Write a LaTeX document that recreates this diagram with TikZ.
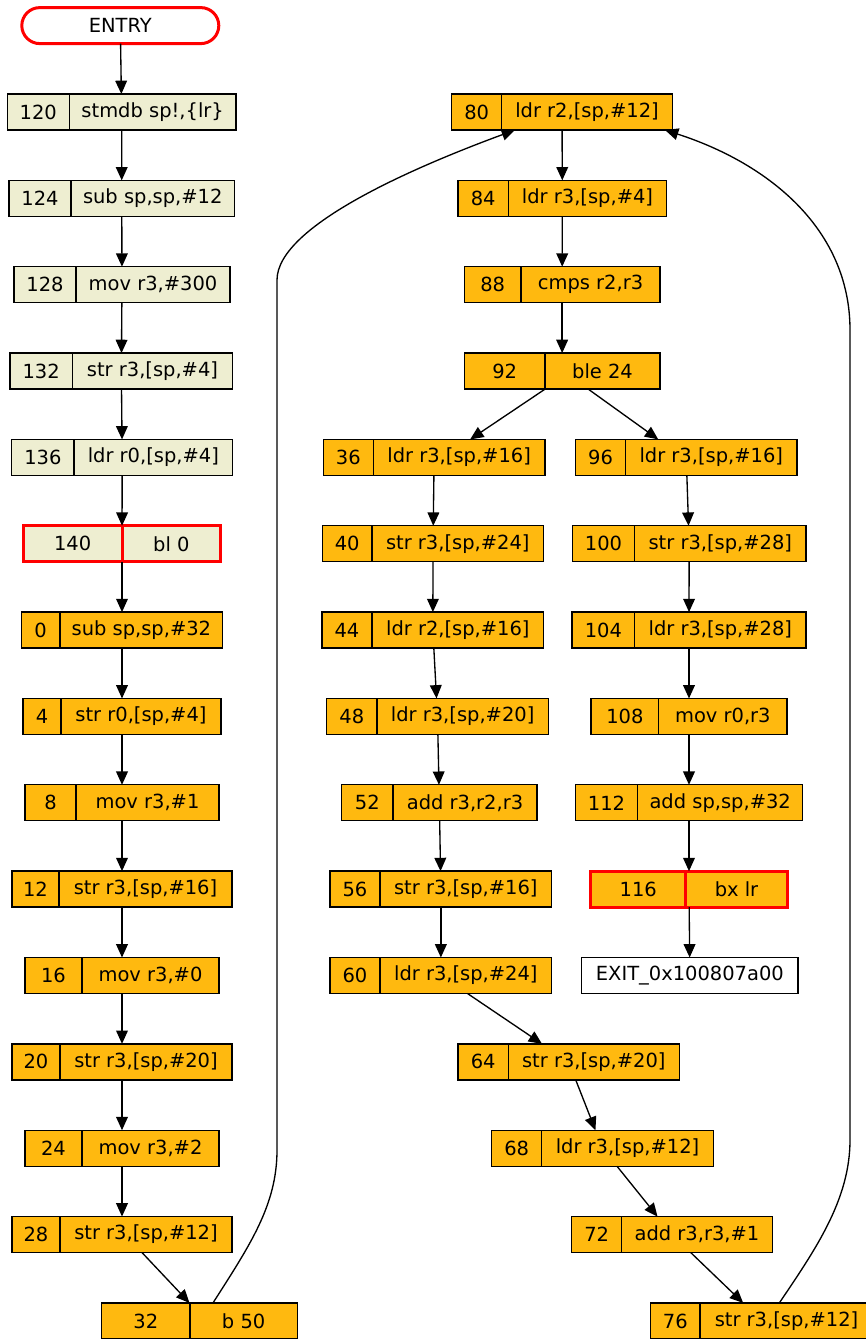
\documentclass[tikz,border=0pt]{standalone}
\usepackage{fontspec}
\setmainfont{DejaVu Sans}
\usetikzlibrary{arrows.meta}
\definecolor{cream}{HTML}{EEEED1}
\definecolor{gold}{HTML}{FFB90F}
\tikzset{
  blk/.style={draw, line width=1pt, minimum height=27pt, inner sep=0pt, outer sep=0pt},
  hot/.style={draw=red, line width=2.25pt},
  edge/.style={line width=1pt, -{Triangle[length=10pt,width=8.8pt]}}
}
% #1 look, #2 name, #3 row, #4 left, #5 divider, #6 right, #7 address, #8 instruction
\newcommand{\blk}[8][]{%
  \node[blk,#1,minimum width={(#6-#4)*0.75pt}] (#2) at ({(#4+#6)/2},{112+#3*86.35}) {};
  \node (#2a) at ({(#4+#5)/2},{112+#3*86.35}) {#7};
  \node (#2t) at ({(#5+#6)/2},{112+#3*86.35}) {#8};
  \draw[line width=1pt,#1] (#5,{94+#3*86.35}) -- (#5,{130+#3*86.35});
}

\begin{document}
\begin{tikzpicture}[x=0.75pt,y=-0.75pt,font=\fontsize{14.6}{17}\selectfont]
\useasboundingbox (0,0) rectangle (865,1339);

\node[blk,hot,rounded corners=13.5pt,minimum width=147.75pt] (entry) at (120.3,25.6) {ENTRY};

% left column
\blk[fill=cream]{n120}{0}{7.3}{69.3}{236}{120}{stmdb sp!,\{lr\}}
\blk[fill=cream]{n124}{1}{9}{71}{234.5}{124}{sub sp,sp,\#12}
\blk[fill=cream]{n128}{2}{14}{76}{230}{128}{mov r3,\#300}
\blk[fill=cream]{n132}{3}{10}{72.3}{232.7}{132}{str r3,[sp,\#4]}
\blk[fill=cream]{n136}{4}{11.7}{74}{232.7}{136}{ldr r0,[sp,\#4]}
\blk[fill=cream,hot]{n140}{5}{23.3}{122}{220.7}{140}{bl 0}
\blk[fill=gold]{n0}{6}{21.3}{60}{222.7}{0}{sub sp,sp,\#32}
\blk[fill=gold]{n4}{7}{23}{61}{221}{4}{str r0,[sp,\#4]}
\blk[fill=gold]{n8}{8}{25}{76}{219}{8}{mov r3,\#1}
\blk[fill=gold]{n12}{9}{12}{59}{232}{12}{str r3,[sp,\#16]}
\blk[fill=gold]{n16}{10}{25}{82}{219}{16}{mov r3,\#0}
\blk[fill=gold]{n20}{11}{12}{60}{232}{20}{str r3,[sp,\#20]}
\blk[fill=gold]{n24}{12}{25}{82}{219}{24}{mov r3,\#2}
\blk[fill=gold]{n28}{13}{12}{60}{232}{28}{str r3,[sp,\#12]}
\blk[fill=gold]{n32}{14}{101.7}{190}{297.3}{32}{b 50}

% loop body
\blk[fill=gold]{n80}{0}{451.7}{501.7}{672.3}{80}{ldr r2,[sp,\#12]}
\blk[fill=gold]{n84}{1}{458}{508.3}{666.7}{84}{ldr r3,[sp,\#4]}
\blk[fill=gold]{n88}{2}{464.3}{521}{660}{88}{cmps r2,r3}
\blk[fill=gold]{n92}{3}{464.3}{545}{660}{92}{ble 24}
\blk[fill=gold]{n36}{4}{323.3}{373.3}{545}{36}{ldr r3,[sp,\#16]}
\blk[fill=gold]{n40}{5}{322.5}{372}{543.5}{40}{str r3,[sp,\#24]}
\blk[fill=gold]{n44}{6}{322}{372}{543.7}{44}{ldr r2,[sp,\#16]}
\blk[fill=gold]{n48}{7}{326.7}{377}{548.3}{48}{ldr r3,[sp,\#20]}
\blk[fill=gold]{n52}{8}{341.7}{393}{537}{52}{add r3,r2,r3}
\blk[fill=gold]{n56}{9}{330}{380}{551.7}{56}{str r3,[sp,\#16]}
\blk[fill=gold]{n60}{10}{330}{380}{551.7}{60}{ldr r3,[sp,\#24]}
\blk[fill=gold]{n64}{11}{458}{508.3}{679.3}{64}{str r3,[sp,\#20]}
\blk[fill=gold]{n68}{12}{491.7}{541.7}{713.3}{68}{ldr r3,[sp,\#12]}
\blk[fill=gold]{n72}{13}{571.7}{621.7}{772.3}{72}{add r3,r3,\#1}
\blk[fill=gold]{n76}{14}{650.7}{700}{873}{76}{str r3,[sp,\#12]}

% exit branch
\blk[fill=gold]{n96}{4}{575.5}{625.5}{797}{96}{ldr r3,[sp,\#16]}
\blk[fill=gold]{n100}{5}{572.3}{634.7}{806}{100}{str r3,[sp,\#28]}
\blk[fill=gold]{n104}{6}{572}{634.7}{806}{104}{ldr r3,[sp,\#28]}
\blk[fill=gold]{n108}{7}{591}{658.7}{787}{108}{mov r0,r3}
\blk[fill=gold]{n112}{8}{575.3}{637.7}{802.7}{112}{add sp,sp,\#32}
\blk[fill=gold,hot]{n116}{9}{590.7}{685.7}{787.3}{116}{bx lr}
\node[blk,fill=white,minimum width=162.2pt] (exit) at (689.85,975.5) {EXIT\_0x100807a00};

\foreach \a/\b in {entry/n120,n120/n124,n124/n128,n128/n132,n132/n136,n136/n140,
    n140/n0,n0/n4,n4/n8,n8/n12,n12/n16,n16/n20,n20/n24,n24/n28,
    n80/n84,n84/n88,n88/n92,n36/n40,n40/n44,n44/n48,n48/n52,n52/n56,n56/n60,
    n60/n64,n64/n68,n68/n72,n72/n76,
    n96/n100,n100/n104,n104/n108,n108/n112,n112/n116,n116/exit}
  \draw[edge] (\a) -- (\b);

\draw[edge] ([shift={(20,0)}]n28.south) -- ([shift={(-10,0)}]n32.north);
\draw[edge] ([shift={(-17,0)}]n92.south) -- ([shift={(36,0)}]n36.north);
\draw[edge] ([shift={(26,0)}]n92.south) -- ([shift={(-28,0)}]n96.north);

% back edges
\draw[edge] ([shift={(13.5,0)}]n32.north) .. controls (250,1245) and (277,1205) .. (277,1150)
  -- (277,280) .. controls (277,225) and (420,165) .. ([shift={(-47,0)}]n80.south);
\draw[edge] ([shift={(17.5,0)}]n76.north) .. controls (815,1250) and (850,1200) .. (850,1140)
  -- (850,330) .. controls (850,230) and (770,164) .. ([shift={(103,0)}]n80.south);
\end{tikzpicture}
\end{document}
